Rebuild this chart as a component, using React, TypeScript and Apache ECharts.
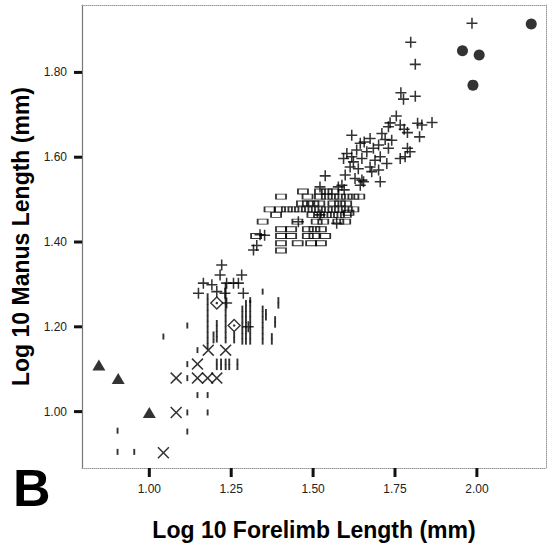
import React, { useEffect, useRef } from "react";
import * as echarts from "echarts";

// ---- Axis ranges and ticks ----
const X_MIN = 0.7945;
const X_MAX = 2.211;
const Y_MIN = 0.867;
const Y_MAX = 1.959;
const xTickValues = [1.0, 1.25, 1.5, 1.75, 2.0];
const yTickValues = [1.0, 1.2, 1.4, 1.6, 1.8];

// ---- Data (log10 forelimb length, log10 manus length) ----
const trianglePoints = [
  [0.846, 1.110], [0.905, 1.078], [1.000, 0.998],
];

const circlePoints = [
  [2.166, 1.914], [1.956, 1.851], [2.007, 1.841], [1.988, 1.770],
];

const diamondPoints = [
  [1.206, 1.256], [1.259, 1.203],
];

const crossPoints = [
  [1.043, 0.903], [1.082, 0.998], [1.082, 1.079], [1.147, 1.079],
  [1.178, 1.079], [1.206, 1.079], [1.147, 1.112], [1.180, 1.145],
  [1.233, 1.145],
];

const barPoints = [
  [0.903, 0.955], [0.903, 0.905], [0.954, 0.905], [1.043, 1.177],
  [1.116, 1.203], [1.116, 1.112], [1.116, 1.079], [1.116, 0.998],
  [1.116, 0.953], [1.147, 1.145], [1.147, 1.039], [1.178, 1.039],
  [1.178, 0.998],
  [1.178, 1.155], [1.178, 1.168], [1.178, 1.181], [1.178, 1.194],
  [1.178, 1.207], [1.178, 1.220], [1.178, 1.233], [1.178, 1.246],
  [1.178, 1.259], [1.178, 1.272],
  [1.196, 1.168], [1.196, 1.182],
  [1.206, 1.105], [1.206, 1.118], [1.219, 1.105], [1.219, 1.118],
  [1.233, 1.105], [1.233, 1.118], [1.244, 1.105], [1.244, 1.118],
  [1.269, 1.105], [1.269, 1.118],
  [1.206, 1.170], [1.206, 1.183], [1.206, 1.196], [1.206, 1.209],
  [1.233, 1.168], [1.233, 1.181], [1.233, 1.194], [1.233, 1.207],
  [1.233, 1.220], [1.233, 1.233], [1.233, 1.246], [1.233, 1.259],
  [1.233, 1.272], [1.233, 1.285], [1.233, 1.298],
  [1.259, 1.168], [1.259, 1.181],
  [1.284, 1.165], [1.284, 1.178], [1.284, 1.191], [1.284, 1.204],
  [1.284, 1.217], [1.284, 1.230], [1.284, 1.243],
  [1.295, 1.165], [1.295, 1.178], [1.295, 1.191], [1.295, 1.204],
  [1.295, 1.217], [1.295, 1.230], [1.295, 1.243], [1.295, 1.256],
  [1.308, 1.165], [1.308, 1.178], [1.308, 1.191], [1.308, 1.204],
  [1.308, 1.217], [1.308, 1.230], [1.308, 1.243], [1.308, 1.256],
  [1.308, 1.263],
  [1.346, 1.165], [1.346, 1.178], [1.346, 1.191], [1.346, 1.204],
  [1.346, 1.217], [1.346, 1.230], [1.346, 1.243], [1.346, 1.283],
  [1.356, 1.222], [1.356, 1.235],
  [1.374, 1.165], [1.374, 1.178],
  [1.384, 1.205], [1.384, 1.218],
  [1.394, 1.250], [1.394, 1.263],
];

const rectPoints = [
  [1.469, 1.519], [1.521, 1.519], [1.542, 1.519], [1.562, 1.519],
  [1.402, 1.507], [1.483, 1.507], [1.521, 1.507], [1.542, 1.507],
  [1.562, 1.507], [1.582, 1.507], [1.603, 1.507], [1.623, 1.507],
  [1.641, 1.507],
  [1.466, 1.491], [1.484, 1.491], [1.501, 1.491], [1.519, 1.491],
  [1.562, 1.491], [1.582, 1.491], [1.601, 1.491],
  [1.367, 1.477], [1.399, 1.477], [1.420, 1.477], [1.440, 1.477],
  [1.460, 1.477], [1.481, 1.477], [1.501, 1.477], [1.521, 1.477],
  [1.542, 1.477], [1.562, 1.477], [1.582, 1.477], [1.603, 1.477],
  [1.623, 1.477],
  [1.608, 1.469],
  [1.387, 1.464], [1.498, 1.464], [1.518, 1.464], [1.539, 1.464],
  [1.559, 1.464], [1.579, 1.464], [1.600, 1.464],
  [1.346, 1.448], [1.452, 1.448], [1.511, 1.448], [1.531, 1.448],
  [1.577, 1.448], [1.598, 1.448],
  [1.402, 1.430], [1.433, 1.430], [1.484, 1.430], [1.504, 1.430],
  [1.524, 1.430],
  [1.326, 1.414], [1.402, 1.414], [1.433, 1.414], [1.484, 1.414],
  [1.504, 1.414], [1.537, 1.414],
  [1.402, 1.397], [1.453, 1.397], [1.494, 1.397], [1.524, 1.397],
  [1.402, 1.380],
];

const plusPoints = [
  [1.985, 1.916], [1.798, 1.871], [1.812, 1.819], [1.768, 1.752],
  [1.776, 1.737], [1.812, 1.744],
  [1.754, 1.697], [1.735, 1.681], [1.730, 1.672], [1.766, 1.676],
  [1.778, 1.666], [1.788, 1.658], [1.819, 1.680], [1.832, 1.676],
  [1.863, 1.682], [1.825, 1.648],
  [1.618, 1.652], [1.656, 1.636], [1.674, 1.644], [1.710, 1.656],
  [1.720, 1.642], [1.644, 1.633], [1.740, 1.640],
  [1.603, 1.609], [1.618, 1.601], [1.633, 1.617], [1.664, 1.613],
  [1.684, 1.621], [1.700, 1.629], [1.730, 1.621], [1.788, 1.621],
  [1.796, 1.613],
  [1.766, 1.597], [1.781, 1.601], [1.593, 1.597], [1.623, 1.589],
  [1.649, 1.597], [1.689, 1.593], [1.705, 1.601], [1.725, 1.585],
  [1.613, 1.577], [1.638, 1.573], [1.674, 1.577], [1.700, 1.570],
  [1.598, 1.558], [1.628, 1.550], [1.649, 1.546], [1.679, 1.566],
  [1.705, 1.542], [1.644, 1.534], [1.537, 1.556], [1.588, 1.534],
  [1.595, 1.523], [1.654, 1.542], [1.521, 1.530], [1.577, 1.530],
  [1.455, 1.448], [1.572, 1.444], [1.521, 1.464],
  [1.338, 1.417], [1.318, 1.381], [1.328, 1.392], [1.352, 1.416],
  [1.221, 1.346], [1.216, 1.322], [1.282, 1.322], [1.165, 1.303],
  [1.191, 1.299], [1.236, 1.303], [1.257, 1.303], [1.272, 1.303],
  [1.150, 1.279], [1.206, 1.283], [1.231, 1.279], [1.287, 1.279],
  [1.236, 1.256], [1.302, 1.200],
];

const PLUS_PATH =
  "path://M4.3,0H5.7V4.3H10V5.7H5.7V10H4.3V5.7H0V4.3H4.3Z";
const X_PATH =
  "path://M0,0.9L0.9,0L5,4.1L9.1,0L10,0.9L5.9,5L10,9.1L9.1,10L5,5.9L0.9,10L0,9.1L4.1,5Z";

const FONT = "'Liberation Sans', Arial, Helvetica, sans-serif";
const INK = "#000";

export default function App() {
  const ref = useRef<HTMLDivElement>(null);

  useEffect(() => {
    if (!ref.current) return;
    const chart = echarts.init(ref.current, null, { renderer: "svg" });

    const labelStyle = { color: "#222", fontSize: 12, fontFamily: FONT };
    const nameStyle = { color: "#000", fontSize: 23, fontWeight: "bold" as const, fontFamily: FONT };

    const base = {
      type: "scatter" as const,
      silent: true,
      emphasis: { disabled: true },
    };

    chart.setOption({
      animation: false,
      backgroundColor: "#fff",
      grid: { left: 82, right: 1, top: 5, bottom: 84, containLabel: false },
      xAxis: [
        {
          type: "value",
          min: X_MIN,
          max: X_MAX,
          position: "bottom",
          axisLine: { show: true, onZero: false, lineStyle: { color: "#999", width: 1, type: "dotted" } },
          axisTick: { show: false },
          axisLabel: {
            ...labelStyle,
            margin: 15,
            customValues: xTickValues,
            formatter: (v: number) => v.toFixed(2),
          },
          splitLine: { show: false },
          name: "Log 10 Forelimb Length (mm)",
          nameLocation: "middle",
          nameGap: 50,
          nameTextStyle: nameStyle,
        },
        {
          type: "value",
          min: X_MIN,
          max: X_MAX,
          position: "top",
          axisLine: { show: true, onZero: false, lineStyle: { color: "#999", width: 1, type: "dotted" } },
          axisTick: { show: false },
          axisLabel: { show: false },
          splitLine: { show: false },
        },
      ],
      yAxis: [
        {
          type: "value",
          min: Y_MIN,
          max: Y_MAX,
          position: "left",
          axisLine: { show: true, onZero: false, lineStyle: { color: "#777", width: 1.2 } },
          axisTick: { show: false },
          axisLabel: {
            ...labelStyle,
            margin: 15,
            customValues: yTickValues,
            formatter: (v: number) => v.toFixed(2),
          },
          splitLine: { show: false },
          name: "Log 10 Manus Length (mm)",
          nameLocation: "middle",
          nameGap: 47,
          nameTextStyle: nameStyle,
        },
        {
          type: "value",
          min: Y_MIN,
          max: Y_MAX,
          position: "right",
          axisLine: { show: true, onZero: false, lineStyle: { color: "#999", width: 1, type: "dotted" } },
          axisTick: { show: false },
          axisLabel: { show: false },
          splitLine: { show: false },
        },
      ],
      series: [
        {
          ...base,
          name: "bars",
          data: barPoints,
          symbol: "rect",
          symbolSize: [1.9, 6],
          itemStyle: { color: INK },
        },
        {
          ...base,
          name: "rects",
          data: rectPoints,
          symbol: "rect",
          symbolSize: [10, 5],
          itemStyle: { color: "rgba(255,255,255,0)", borderColor: INK, borderWidth: 1.3 },
        },
        {
          ...base,
          name: "plus",
          data: plusPoints,
          symbol: PLUS_PATH,
          symbolSize: 11,
          itemStyle: { color: INK },
        },
        {
          ...base,
          name: "cross",
          data: crossPoints,
          symbol: X_PATH,
          symbolSize: 12,
          itemStyle: { color: INK },
        },
        {
          ...base,
          name: "diamond",
          data: diamondPoints,
          symbol: "diamond",
          symbolSize: 12,
          itemStyle: { color: "#fff", borderColor: INK, borderWidth: 1.4 },
        },
        {
          ...base,
          name: "diamondDot",
          data: diamondPoints,
          symbol: "circle",
          symbolSize: 2.5,
          itemStyle: { color: INK },
        },
        {
          ...base,
          name: "triangle",
          data: trianglePoints,
          symbol: "triangle",
          symbolSize: [13, 11],
          itemStyle: { color: INK },
        },
        {
          ...base,
          name: "circle",
          data: circlePoints,
          symbol: "circle",
          symbolSize: 11,
          itemStyle: { color: INK },
        },
      ],
    });

    // Tick marks positioned through the axes' own scales
    const toX = (v: number) => Number(chart.convertToPixel({ xAxisIndex: 0 }, v));
    const toY = (v: number) => Number(chart.convertToPixel({ yAxisIndex: 0 }, v));
    const bottomY = toY(Y_MIN);
    const leftX = toX(X_MIN);

    const tickEls: any[] = [];
    xTickValues.forEach((v) => {
      const x = toX(v);
      tickEls.push({
        type: "rect",
        silent: true,
        z: 100,
        shape: { x: x - 1.5, y: bottomY, width: 3, height: 9 },
        style: { fill: "#111" },
      });
    });
    yTickValues.forEach((v) => {
      const y = toY(v);
      tickEls.push({
        type: "rect",
        silent: true,
        z: 100,
        shape: { x: leftX - 8, y: y - 1.5, width: 8, height: 3 },
        style: { fill: "#111" },
      });
    });

    chart.setOption({
      graphic: [
        {
          type: "text",
          left: 13,
          top: 462,
          silent: true,
          style: { text: "B", fontSize: 52, fontWeight: "bold", fontFamily: FONT, fill: "#000" },
        },
        ...tickEls,
      ],
    });

    return () => chart.dispose();
  }, []);

  return (
    <div
      ref={ref}
      style={{ position: "fixed", left: 0, top: 0, width: 547, height: 552, background: "#fff" }}
    />
  );
}
